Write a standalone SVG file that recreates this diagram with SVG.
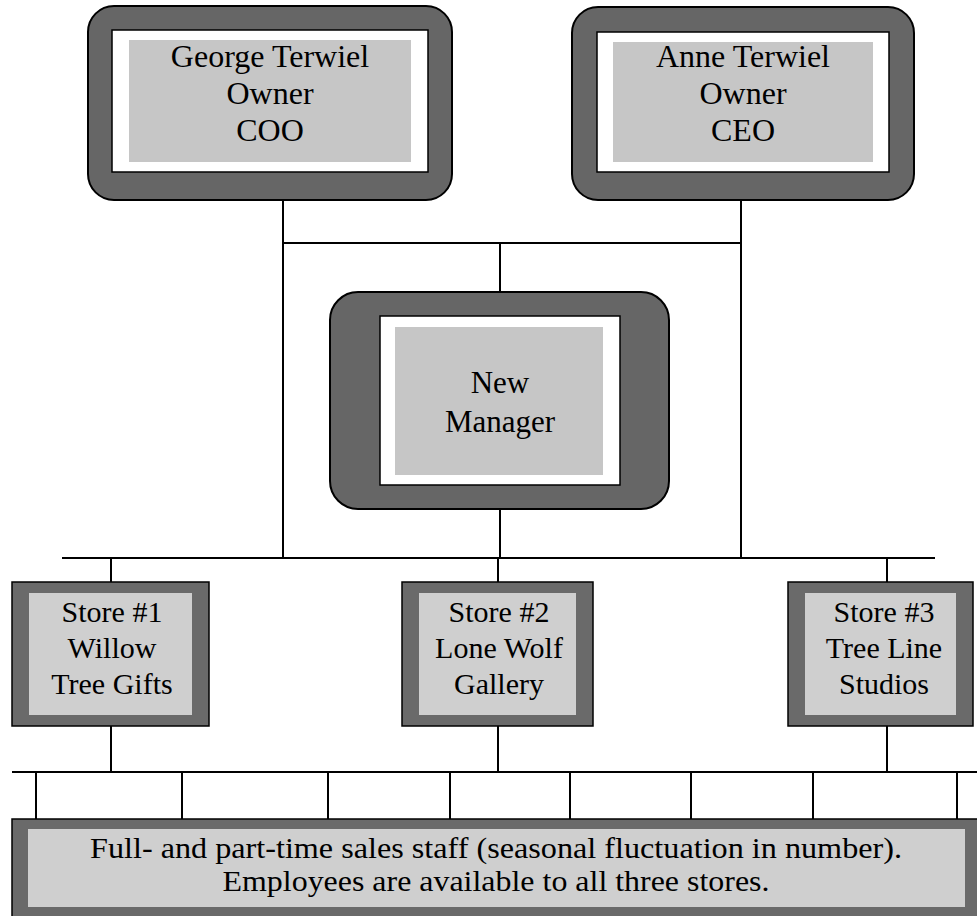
<svg xmlns="http://www.w3.org/2000/svg" width="977" height="916" viewBox="0 0 977 916">
<style>
.frame{fill:#666;stroke:#000;stroke-width:2}
.sq{fill:#6a6a6a;stroke:#000;stroke-width:1.5}
.white{fill:#fff;stroke:#000;stroke-width:1.5}
.gray{fill:#c6c6c6}
.lite{fill:#cfcfcf}
.t{font-family:"Liberation Serif","Times New Roman",serif;font-size:32px;fill:#000;text-anchor:middle}
.s{font-size:30px}
.b{font-size:29px}
.ln{stroke:#000;stroke-width:2;fill:none}
</style>
<rect width="977" height="916" fill="#fff"/>
<g id="connectors" class="ln">
<path d="M283 200V558M741 200V558M283 243H741M500 243V292M500 509V558"/>
<path d="M62 558H935M111 558V582M498 558V582M887 558V582"/>
<path d="M111 726V772M498 726V772M887 726V772"/>
<path d="M12 772H977M36 772V819M182 772V819M328 772V819M450 772V819M570 772V819M691 772V819M813 772V819M957 772V819"/>
</g>
<g id="george">
<rect class="frame" x="88" y="6" width="364" height="194" rx="26"/>
<rect class="white" x="112" y="30" width="316" height="142"/>
<rect class="gray" x="129" y="40" width="282" height="122"/>
<text class="t" x="270" y="67">George Terwiel<tspan x="270" y="104">Owner</tspan><tspan x="270" y="141">COO</tspan></text>
</g>
<g id="anne">
<rect class="frame" x="572" y="7" width="342" height="193" rx="26"/>
<rect class="white" x="597" y="32" width="292" height="140"/>
<rect class="gray" x="613" y="42" width="260" height="120"/>
<text class="t" x="743" y="67">Anne Terwiel<tspan x="743" y="104">Owner</tspan><tspan x="743" y="141">CEO</tspan></text>
</g>
<g id="manager">
<rect class="frame" x="330" y="292" width="339" height="217" rx="28"/>
<rect class="white" x="380" y="316" width="240" height="169"/>
<rect class="gray" x="395" y="327" width="208" height="148"/>
<text class="t" x="500" y="393" style="font-size:31px">New<tspan x="500" y="432">Manager</tspan></text>
</g>
<g id="store1">
<rect class="sq" x="12" y="582" width="197" height="144"/>
<rect class="lite" x="29" y="593" width="163" height="122"/>
<text class="t s" x="112" y="622">Store #1<tspan x="112" y="658">Willow</tspan><tspan x="112" y="694">Tree Gifts</tspan></text>
</g>
<g id="store2">
<rect class="sq" x="402" y="582" width="191" height="144"/>
<rect class="lite" x="419" y="593" width="157" height="122"/>
<text class="t s" x="499" y="622">Store #2<tspan x="499" y="658">Lone Wolf</tspan><tspan x="499" y="694">Gallery</tspan></text>
</g>
<g id="store3">
<rect class="sq" x="788" y="582" width="185" height="144"/>
<rect class="lite" x="805" y="593" width="151" height="122"/>
<text class="t s" x="884" y="622">Store #3<tspan x="884" y="658">Tree Line</tspan><tspan x="884" y="694">Studios</tspan></text>
</g>
<g id="staff">
<rect class="sq" x="12" y="819" width="975" height="110"/>
<rect class="lite" x="28" y="829" width="937" height="78"/>
<text class="t b" x="496" y="858" textLength="812" lengthAdjust="spacingAndGlyphs">Full- and part-time sales staff (seasonal fluctuation in number).</text>
<text class="t b" x="496" y="891" textLength="547" lengthAdjust="spacingAndGlyphs">Employees are available to all three stores.</text>
</g>
</svg>
